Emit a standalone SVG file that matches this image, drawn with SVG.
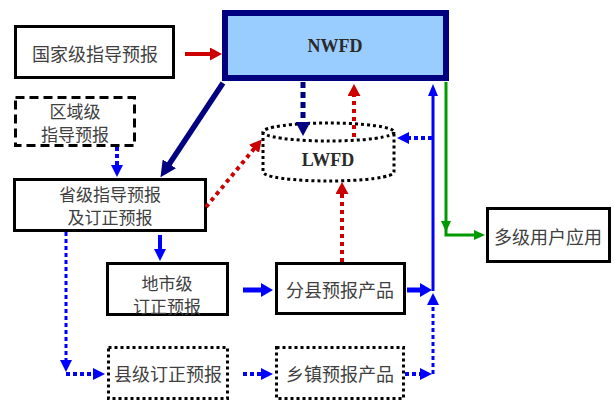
<svg xmlns="http://www.w3.org/2000/svg" width="614" height="400" viewBox="0 0 614 400">
<style>
.box{fill:#fff;stroke:#000;stroke-width:3}
.dash{fill:#fff;stroke:#000;stroke-width:3;stroke-dasharray:9 5}
.dot{fill:#fff;stroke:#000;stroke-width:3;stroke-dasharray:3 3}
.cn{font-family:"Noto Sans CJK SC","Noto Sans",sans-serif;font-size:18px;fill:#404040;text-anchor:middle;dominant-baseline:central}
.cn2{font-size:17px}
.en{font-family:"Liberation Serif",serif;font-size:18px;font-weight:bold;fill:#2a2a2a;text-anchor:middle}
.red{stroke:#cc0000;fill:none}
.navy{stroke:#000080;fill:none}
.blue{stroke:#0000ff;fill:none}
.green{stroke:#009900;fill:none}
.dotted{stroke-dasharray:4 3}
</style>
<defs>
<marker id="hRed" viewBox="0 0 12 13" refX="1" refY="6.5" markerWidth="12" markerHeight="13" markerUnits="userSpaceOnUse" orient="auto"><path d="M0,0 L12,6.5 L0,13 z" fill="#cc0000"/></marker>
<marker id="hNavy" viewBox="0 0 16 16" refX="1" refY="8" markerWidth="16" markerHeight="16" markerUnits="userSpaceOnUse" orient="auto"><path d="M0,0 L16,8 L0,16 z" fill="#000080"/></marker>
<marker id="hNavy2" viewBox="0 0 14 15" refX="1" refY="7.5" markerWidth="14" markerHeight="15" markerUnits="userSpaceOnUse" orient="auto"><path d="M0,0 L14,7.5 L0,15 z" fill="#000080"/></marker>
<marker id="hBlue" viewBox="0 0 12 12" refX="1" refY="6" markerWidth="12" markerHeight="12" markerUnits="userSpaceOnUse" orient="auto"><path d="M0,0 L12,6 L0,12 z" fill="#0000ff"/></marker>
<marker id="hBlueS" viewBox="0 0 12 10" refX="1" refY="5" markerWidth="12" markerHeight="10" markerUnits="userSpaceOnUse" orient="auto"><path d="M0,0 L12,5 L0,10 z" fill="#0000ff"/></marker>
<marker id="hBlueB" viewBox="0 0 12 14" refX="1" refY="7" markerWidth="12" markerHeight="14" markerUnits="userSpaceOnUse" orient="auto"><path d="M0,0 L12,7 L0,14 z" fill="#0000ff"/></marker>
<marker id="hGreen" viewBox="0 0 11 10" refX="1" refY="5" markerWidth="11" markerHeight="10" markerUnits="userSpaceOnUse" orient="auto"><path d="M0,0 L11,5 L0,10 z" fill="#009900"/></marker>
</defs>

<g id="nwfd">
<rect x="225" y="13" width="221" height="65" fill="#99ccff" stroke="#000080" stroke-width="6"/>
<text class="en" x="335" y="52">NWFD</text>
</g>
<g id="national">
<rect class="box" x="15.5" y="26.5" width="158" height="51"/>
<text class="cn" x="95" y="53">国家级指导预报</text>
</g>
<g id="regional">
<rect class="dash" x="15.5" y="97.5" width="119" height="48"/>
<text class="cn cn2" x="75" y="110">区域级</text>
<text class="cn cn2" x="75" y="133">指导预报</text>
</g>
<g id="lwfd">
<path d="M263,132 V172 A65.5,9 0 0 0 394,172 V132" fill="#fff" stroke="#000" stroke-width="3" stroke-dasharray="3 3"/>
<ellipse cx="328.5" cy="132" rx="65.5" ry="9" fill="#fff" stroke="#000" stroke-width="3" stroke-dasharray="3 3"/>
<text class="en" x="328" y="166">LWFD</text>
</g>
<g id="provincial">
<rect class="box" x="14.5" y="179.5" width="191" height="51"/>
<text class="cn cn2" x="110" y="193">省级指导预报</text>
<text class="cn cn2" x="110" y="216">及订正预报</text>
</g>
<g id="users">
<rect class="box" x="487.5" y="208.5" width="122" height="53"/>
<text class="cn" x="548" y="236">多级用户应用</text>
</g>
<g id="city">
<rect class="box" x="107.5" y="263.5" width="120" height="51"/>
<text class="cn cn2" x="167" y="282">地市级</text>
<text class="cn cn2" x="167" y="305">订正预报</text>
</g>
<g id="county-products">
<rect class="box" x="276.5" y="263.5" width="128" height="50"/>
<text class="cn" x="340" y="289">分县预报产品</text>
</g>
<g id="county">
<rect class="dot" x="108.5" y="347.5" width="119" height="51"/>
<text class="cn" x="168" y="373">县级订正预报</text>
</g>
<g id="town-products">
<rect class="dot" x="276.5" y="347.5" width="127" height="51"/>
<text class="cn" x="340" y="373">乡镇预报产品</text>
</g>

<g id="connectors">
<line class="red" x1="185" y1="54" x2="211" y2="54" stroke-width="4" marker-end="url(#hRed)"/>
<line class="navy" x1="223" y1="83" x2="168.8" y2="164.7" stroke-width="5.5" marker-end="url(#hNavy)"/>
<line class="navy" x1="303" y1="82" x2="303" y2="123" stroke-width="5" stroke-dasharray="6 4" marker-end="url(#hNavy2)"/>
<line class="red" x1="354" y1="137" x2="354" y2="95" stroke-width="4" stroke-dasharray="4 4" marker-end="url(#hRed)"/>
<line class="red" x1="206" y1="207" x2="254.7" y2="148" stroke-width="4" stroke-dasharray="4 4" marker-end="url(#hRed)"/>
<line class="red" x1="342" y1="262" x2="342" y2="193" stroke-width="4" stroke-dasharray="4 4" marker-end="url(#hRed)"/>
<line class="blue" x1="433" y1="291" x2="433" y2="95" stroke-width="3" marker-end="url(#hBlueS)"/>
<line class="blue dotted" x1="432" y1="138" x2="408" y2="138" stroke-width="4" marker-end="url(#hBlue)"/>
<line class="green" x1="446" y1="82" x2="446" y2="222" stroke-width="3" marker-end="url(#hGreen)"/>
<path class="green" d="M446,222 V235 H475" stroke-width="3" marker-end="url(#hGreen)"/>
<line class="blue" x1="117" y1="147" x2="117" y2="166" stroke-width="4" stroke-dasharray="4 3" marker-end="url(#hBlue)"/>
<line class="blue" x1="160" y1="235" x2="160" y2="250" stroke-width="4" marker-end="url(#hBlue)"/>
<line class="blue" x1="243" y1="290" x2="262" y2="290" stroke-width="5" marker-end="url(#hBlueB)"/>
<line class="blue" x1="407" y1="290" x2="421" y2="290" stroke-width="5" marker-end="url(#hBlueB)"/>
<line class="blue dotted" x1="66" y1="232" x2="66" y2="361" stroke-width="3" marker-end="url(#hBlue)"/>
<line class="blue dotted" x1="66" y1="374" x2="94" y2="374" stroke-width="4" marker-end="url(#hBlue)"/>
<line class="blue dotted" x1="243" y1="374" x2="262" y2="374" stroke-width="4" marker-end="url(#hBlue)"/>
<line class="blue dotted" x1="405" y1="374" x2="421" y2="374" stroke-width="4" marker-end="url(#hBlue)"/>
<line class="blue dotted" x1="433" y1="374" x2="433" y2="304" stroke-width="3" marker-end="url(#hBlue)"/>
</g>
</svg>
